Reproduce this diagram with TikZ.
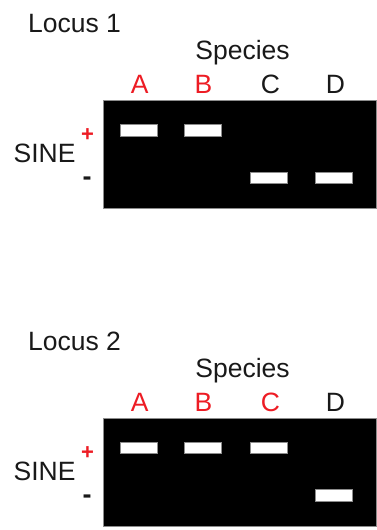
\documentclass[tikz,border=0pt]{standalone}
\usepackage{fontspec}
\setmainfont{Liberation Sans}
\definecolor{txt}{RGB}{25,25,25}
\definecolor{lred}{RGB}{237,28,36}
\definecolor{edgegray}{RGB}{140,140,140}
\begin{document}
\begin{tikzpicture}[x=1pt,y=-1pt,
  lbl/.style={inner sep=0pt, text=txt, font=\fontsize{26.5}{30}\selectfont, anchor=base},
  lbw/.style={lbl, anchor=base west},
  redlbl/.style={lbl, text=lred},
  gel/.style={fill=black, draw=edgegray, line width=0.8pt, inner sep=0pt, anchor=north west, minimum width=273pt, minimum height=108pt},
  band/.style={fill=white, draw=edgegray, line width=0.6pt, inner sep=0pt, minimum width=37pt, minimum height=11.5pt},
  plussign/.style={inner sep=0pt, text=lred, font=\fontsize{22}{24}\selectfont\bfseries, anchor=base},
  minussign/.style={inner sep=0pt, text=txt, font=\fontsize{27}{30}\selectfont\bfseries, anchor=base}]
\useasboundingbox (0,0) rectangle (376,530);

% ---------- Locus 1 ----------
\node[lbw] (t1) at (28,32) {Locus 1};
\node[lbl] (s1) at (242.5,59) {Species};
\node[redlbl] (a1) at (139.6,93) {A};
\node[redlbl] (b1) at (203.5,93) {B};
\node[lbl] (c1) at (270.5,93) {C};
\node[lbl] (d1) at (335.5,93) {D};
\node[gel] (g1) at (103,99.5) {};
\node[band] (ba1) at (138.3,130.5) {};
\node[band] (bb1) at (203,130.5) {};
\node[band] (bc1) at (268.7,178) {};
\node[band] (bd1) at (334,178) {};
\node[lbw] (sine1) at (13.5,162.5) {SINE};
\node[plussign] (p1) at (87.5,141.5) {+};
\node[minussign] (m1) at (87,185.5) {-};

% ---------- Locus 2 ----------
\begin{scope}[shift={(0,318)}]
\node[lbw] (t2) at (28,32) {Locus 2};
\node[lbl] (s2) at (242.5,59) {Species};
\node[redlbl] (a2) at (139.6,93) {A};
\node[redlbl] (b2) at (203.5,93) {B};
\node[redlbl] (c2) at (270.5,93) {C};
\node[lbl] (d2) at (335.5,93) {D};
\node[gel] (g2) at (103,99.5) {};
\node[band] (ba2) at (138.3,130) {};
\node[band] (bb2) at (203,130) {};
\node[band] (bc2) at (268.7,130) {};
\node[band] (bd2) at (334,177.5) {};
\node[lbw] (sine2) at (13.5,162.5) {SINE};
\node[plussign] (p2) at (87.5,141.5) {+};
\node[minussign] (m2) at (87,185.5) {-};
\end{scope}
\end{tikzpicture}
\end{document}
